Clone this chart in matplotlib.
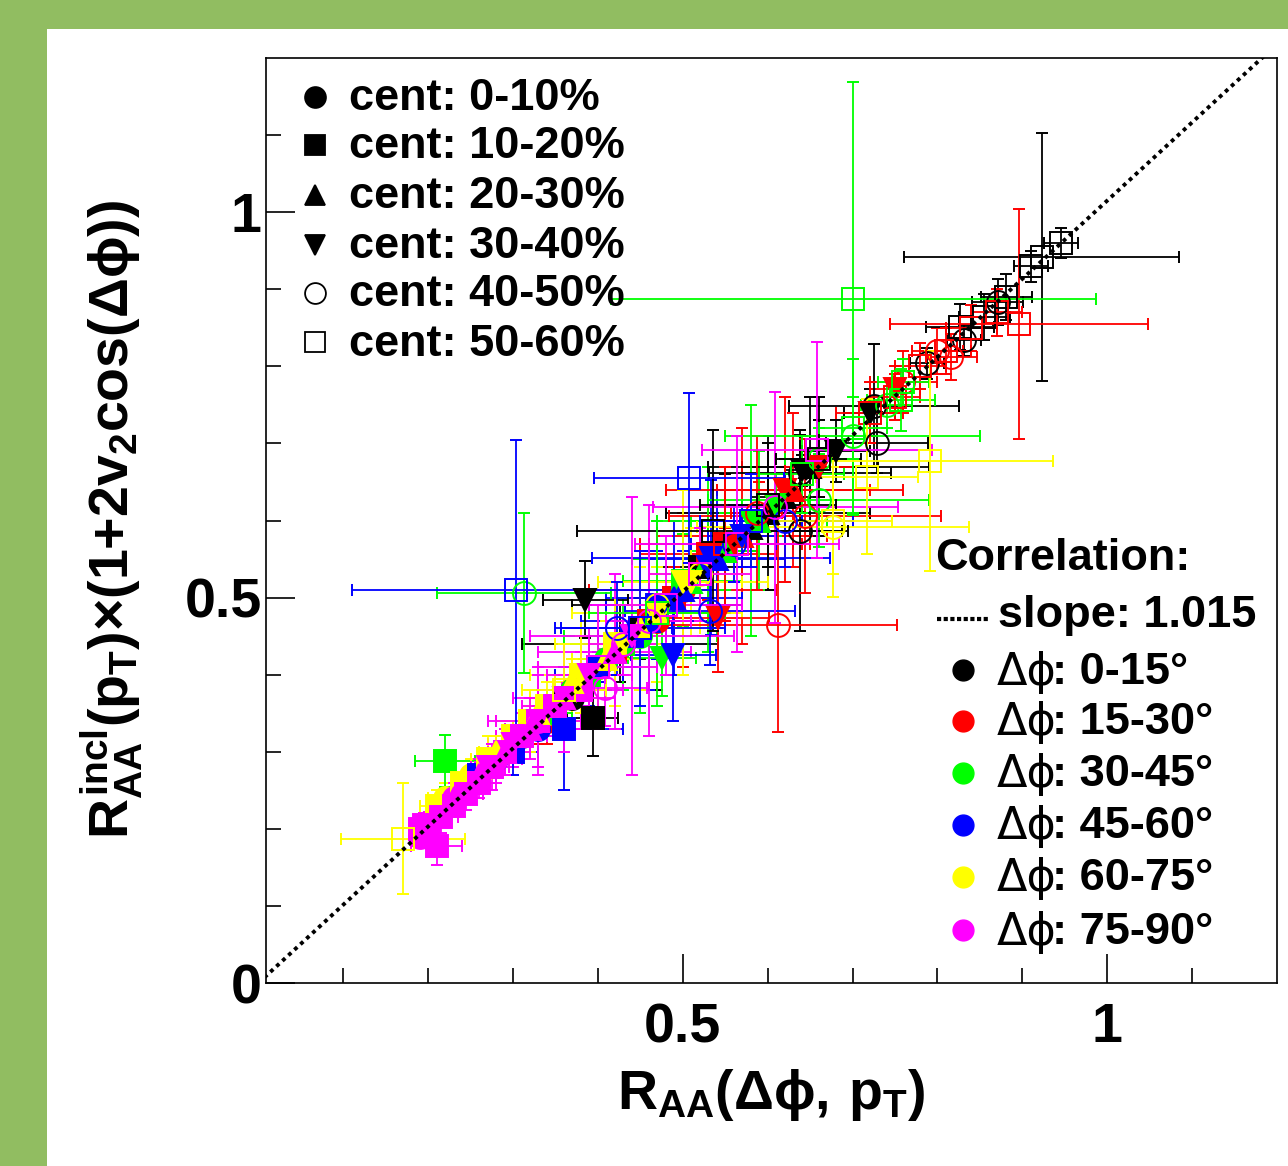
import numpy as np
import matplotlib
matplotlib.use("Agg")
import matplotlib.pyplot as plt
from matplotlib.lines import Line2D
from matplotlib.patches import Rectangle

plt.rcParams['font.family'] = ['Liberation Sans', 'DejaVu Sans']
plt.rcParams['font.weight'] = 'bold'
plt.rcParams['mathtext.fontset'] = 'custom'
plt.rcParams['mathtext.rm'] = 'Liberation Sans:bold'
plt.rcParams['mathtext.it'] = 'Liberation Sans:bold'
plt.rcParams['mathtext.bf'] = 'Liberation Sans:bold'
plt.rcParams['mathtext.sf'] = 'Liberation Sans:bold'
plt.rcParams['mathtext.fallback'] = 'stixsans'

W, H = 1288, 1166

PHI_COLORS = ["#000000", "#ff0000", "#00ff00", "#0000ff", "#ffff00", "#ff00ff"]
PHI_RANGES = ["0-15°", "15-30°", "30-45°", "45-60°", "60-75°", "75-90°"]
CENT_LABELS = ["cent: 0-10%", "cent: 10-20%", "cent: 20-30%",
               "cent: 30-40%", "cent: 40-50%", "cent: 50-60%"]
CENT_MARKERS = ["o", "s", "^", "v", "o", "s"]
CENT_FILLED = [True, True, True, True, False, False]
SLOPE = 1.015

# ---- data (x = RAA(dphi,pT), y = RAA_incl*(1+2v2cos)) ----
# cent 0-10%
c0_phi = [0, 0, 0, 0, 1, 1, 1, 1, 2, 2, 2, 2, 3, 3, 3, 3, 4, 4, 4, 4, 5, 5, 5, 5, 5,
          5, 5, 5, 4, 4, 4, 3, 3, 2, 2, 1, 1, 0, 0]
c0_x = [0.40, 0.43, 0.45, 0.47, 0.37, 0.40, 0.43, 0.50, 0.34, 0.37, 0.41, 0.45,
        0.31, 0.35, 0.39, 0.46, 0.27, 0.30, 0.34, 0.40, 0.20, 0.22, 0.25, 0.28, 0.33,
        0.19, 0.23, 0.30, 0.22, 0.25, 0.36, 0.28, 0.33, 0.30, 0.43, 0.34, 0.47, 0.37, 0.426]
c0_y = [0.41, 0.44, 0.46, 0.49, 0.38, 0.41, 0.44, 0.51, 0.35, 0.38, 0.42, 0.45,
        0.32, 0.36, 0.40, 0.47, 0.28, 0.31, 0.35, 0.41, 0.20, 0.23, 0.26, 0.29, 0.34,
        0.19, 0.24, 0.31, 0.24, 0.27, 0.37, 0.29, 0.33, 0.31, 0.44, 0.34, 0.47, 0.37, 0.44]
c0_ex = [0.01, 0.02, 0.04, 0.10, 0.01, 0.02, 0.04, 0.11, 0.01, 0.02, 0.04, 0.09,
         0.01, 0.02, 0.04, 0.08, 0.01, 0.02, 0.03, 0.07, 0.01, 0.01, 0.02, 0.03, 0.06,
         0.01, 0.02, 0.03, 0.02, 0.02, 0.04, 0.02, 0.03, 0.02, 0.07, 0.02, 0.06, 0.02, 0.115]
c0_ey = [0.01, 0.02, 0.04, 0.11, 0.01, 0.02, 0.04, 0.10, 0.01, 0.02, 0.04, 0.10,
         0.01, 0.02, 0.04, 0.09, 0.01, 0.02, 0.03, 0.08, 0.01, 0.01, 0.02, 0.03, 0.07,
         0.01, 0.02, 0.03, 0.02, 0.02, 0.04, 0.02, 0.05, 0.03, 0.06, 0.03, 0.08, 0.03, 0.05]

# cent 10-20%
c1_phi = [0, 0, 0, 0, 1, 1, 1, 1, 2, 2, 2, 2, 3, 3, 3, 3, 4, 4, 4, 4, 5, 5, 5, 5, 5, 5,
          5, 5, 5, 5, 5, 5, 5, 4, 4, 4, 4, 3, 3, 3, 2, 2, 2, 1, 1, 0, 0]
c1_x = [0.394, 0.45, 0.49, 0.52, 0.42, 0.46, 0.49, 0.55, 0.22, 0.39, 0.43, 0.47,
        0.35, 0.40, 0.44, 0.36, 0.24, 0.30, 0.34, 0.38, 0.19, 0.21, 0.23, 0.26, 0.29, 0.33,
        0.195, 0.215, 0.245, 0.275, 0.31, 0.35, 0.38, 0.21, 0.27, 0.32, 0.42,
        0.26, 0.30, 0.47, 0.27, 0.34, 0.50, 0.33, 0.53, 0.36, 0.55]
c1_y = [0.344, 0.46, 0.50, 0.54, 0.43, 0.47, 0.50, 0.57, 0.288, 0.40, 0.44, 0.48,
        0.36, 0.41, 0.45, 0.33, 0.26, 0.32, 0.36, 0.40, 0.20, 0.178, 0.23, 0.26, 0.30, 0.34,
        0.205, 0.215, 0.245, 0.28, 0.32, 0.36, 0.38, 0.23, 0.29, 0.34, 0.44,
        0.27, 0.30, 0.49, 0.28, 0.35, 0.522, 0.34, 0.557, 0.37, 0.57]
c1_ex = [0.03, 0.02, 0.03, 0.05, 0.01, 0.02, 0.04, 0.09, 0.035, 0.02, 0.03, 0.06,
         0.01, 0.02, 0.04, 0.07, 0.01, 0.02, 0.03, 0.06, 0.01, 0.03, 0.01, 0.02, 0.03, 0.05,
         0.015, 0.02, 0.02, 0.02, 0.03, 0.04, 0.05, 0.02, 0.02, 0.04, 0.07,
         0.02, 0.03, 0.06, 0.02, 0.03, 0.07, 0.02, 0.08, 0.02, 0.08]
c1_ey = [0.05, 0.02, 0.03, 0.05, 0.01, 0.02, 0.04, 0.10, 0.034, 0.02, 0.03, 0.06,
         0.01, 0.02, 0.04, 0.08, 0.01, 0.02, 0.03, 0.06, 0.01, 0.025, 0.01, 0.02, 0.03, 0.06,
         0.015, 0.02, 0.02, 0.03, 0.03, 0.04, 0.05, 0.02, 0.03, 0.04, 0.08,
         0.02, 0.03, 0.07, 0.02, 0.03, 0.06, 0.03, 0.06, 0.03, 0.09]

# cent 20-30%
c2_phi = [0, 0, 0, 1, 1, 1, 2, 2, 2, 3, 3, 3, 4, 4, 4, 4, 5, 5, 5, 5,
          0, 1, 2, 3, 4, 5, 5, 4]
c2_x = [0.58, 0.62, 0.65, 0.55, 0.59, 0.63, 0.51, 0.55, 0.59, 0.46, 0.50, 0.54,
        0.33, 0.37, 0.41, 0.45, 0.26, 0.29, 0.32, 0.36,
        0.60, 0.57, 0.53, 0.49, 0.47, 0.42, 0.23, 0.28]
c2_y = [0.59, 0.63, 0.67, 0.56, 0.60, 0.64, 0.52, 0.56, 0.60, 0.47, 0.51, 0.55,
        0.35, 0.39, 0.42, 0.46, 0.27, 0.30, 0.33, 0.37,
        0.61, 0.58, 0.55, 0.50, 0.48, 0.43, 0.24, 0.30]
c2_ex = [0.02, 0.04, 0.08, 0.02, 0.04, 0.09, 0.02, 0.04, 0.08, 0.02, 0.04, 0.08,
         0.01, 0.02, 0.04, 0.07, 0.01, 0.02, 0.03, 0.06,
         0.12, 0.10, 0.09, 0.08, 0.10, 0.09, 0.02, 0.02]
c2_ey = [0.03, 0.05, 0.09, 0.03, 0.05, 0.10, 0.03, 0.05, 0.09, 0.03, 0.05, 0.09,
         0.02, 0.03, 0.05, 0.08, 0.02, 0.03, 0.04, 0.07,
         0.10, 0.14, 0.12, 0.10, 0.09, 0.10, 0.02, 0.02]

# cent 30-40%
c3_phi = [0, 0, 0, 0, 1, 1, 1, 1, 2, 2, 2, 3, 3, 3, 4, 4, 4, 5, 5, 5, 5,
          0, 1, 2, 3, 4, 5, 5, 4]
c3_x = [0.385, 0.64, 0.68, 0.72, 0.541, 0.61, 0.66, 0.75, 0.475, 0.57, 0.61,
        0.489, 0.53, 0.57, 0.43, 0.47, 0.51, 0.30, 0.33, 0.36, 0.39,
        0.66, 0.62, 0.58, 0.533, 0.50, 0.44, 0.27, 0.38]
c3_y = [0.497, 0.665, 0.69, 0.74, 0.474, 0.62, 0.67, 0.77, 0.422, 0.58, 0.62,
        0.425, 0.54, 0.58, 0.44, 0.48, 0.52, 0.31, 0.34, 0.37, 0.40,
        0.67, 0.64, 0.60, 0.552, 0.52, 0.45, 0.28, 0.40]
c3_ex = [0.05, 0.02, 0.04, 0.03, 0.06, 0.02, 0.04, 0.03, 0.04, 0.02, 0.04,
         0.05, 0.02, 0.04, 0.02, 0.03, 0.06, 0.01, 0.02, 0.03, 0.05,
         0.13, 0.14, 0.11, 0.14, 0.10, 0.12, 0.02, 0.04]
c3_ey = [0.05, 0.02, 0.04, 0.03, 0.07, 0.02, 0.04, 0.03, 0.05, 0.02, 0.04,
         0.085, 0.02, 0.04, 0.02, 0.03, 0.07, 0.01, 0.02, 0.03, 0.06,
         0.09, 0.12, 0.15, 0.10, 0.12, 0.18, 0.02, 0.05]

# cent 40-50%
c4_phi = [0, 0, 0, 0, 0, 0, 1, 1, 1, 1, 2, 2, 2, 2, 3, 3, 3, 4, 4, 4, 5, 5, 5,
          5, 1, 2, 3, 1, 0]
c4_x = [0.638, 0.729, 0.725, 0.788, 0.831, 0.871, 0.612, 0.76, 0.80, 0.816,
        0.313, 0.66, 0.70, 0.74, 0.422, 0.532, 0.56, 0.47, 0.677, 0.52, 0.408, 0.43, 0.46,
        0.609, 0.644, 0.66, 0.62, 0.587, 0.638]
c4_y = [0.587, 0.701, 0.749, 0.804, 0.834, 0.883, 0.465, 0.78, 0.82, 0.812,
        0.506, 0.68, 0.71, 0.75, 0.46, 0.483, 0.57, 0.49, 0.591, 0.53, 0.383, 0.44, 0.47,
        0.617, 0.606, 0.626, 0.60, 0.61, 0.661]
c4_ex = [0.05, 0.06, 0.10, 0.02, 0.02, 0.03, 0.14, 0.04, 0.03, 0.03,
         0.103, 0.04, 0.15, 0.03, 0.065, 0.10, 0.05, 0.05, 0.16, 0.06, 0.05, 0.04, 0.05,
         0.144, 0.16, 0.13, 0.08, 0.03, 0.107]
c4_ey = [0.13, 0.04, 0.08, 0.02, 0.02, 0.03, 0.14, 0.04, 0.03, 0.03,
         0.104, 0.04, 0.10, 0.03, 0.06, 0.07, 0.05, 0.05, 0.09, 0.06, 0.05, 0.04, 0.15,
         0.15, 0.10, 0.06, 0.06, 0.10, 0.05]

# cent 50-60%
c5_phi = [0, 0, 0, 0, 0, 0, 0, 0, 1, 1, 1, 1, 1, 1, 2, 2, 2, 2, 3, 3, 3,
          4, 4, 4, 4, 5, 5, 5, 5,
          5, 4, 3, 2, 1, 0, 1, 2]
c5_x = [0.535, 0.60, 0.827, 0.855, 0.881, 0.91, 0.923, 0.945,
        0.75, 0.78, 0.81, 0.84, 0.87, 0.896, 0.701, 0.64, 0.70, 0.757,
        0.303, 0.507, 0.58, 0.17, 0.677, 0.717, 0.791, 0.48, 0.52, 0.564, 0.658,
        0.40, 0.36, 0.45, 0.47, 0.55, 0.66, 0.72, 0.76]
c5_y = [0.587, 0.62, 0.851, 0.864, 0.89, 0.93, 0.942, 0.96,
        0.76, 0.80, 0.82, 0.85, 0.87, 0.855, 0.888, 0.66, 0.72, 0.756,
        0.51, 0.655, 0.60, 0.187, 0.60, 0.657, 0.677, 0.49, 0.53, 0.57, 0.691,
        0.41, 0.38, 0.46, 0.48, 0.57, 0.68, 0.74, 0.78]
c5_ex = [0.16, 0.08, 0.04, 0.03, 0.03, 0.02, 0.162, 0.02,
         0.03, 0.03, 0.03, 0.03, 0.03, 0.152, 0.286, 0.05, 0.04, 0.04,
         0.193, 0.112, 0.06, 0.073, 0.07, 0.06, 0.145, 0.09, 0.06, 0.12, 0.135,
         0.07, 0.05, 0.10, 0.08, 0.10, 0.05, 0.04, 0.03]
c5_ey = [0.13, 0.08, 0.03, 0.03, 0.03, 0.02, 0.161, 0.02,
         0.03, 0.03, 0.03, 0.03, 0.03, 0.149, 0.281, 0.05, 0.04, 0.04,
         0.195, 0.11, 0.06, 0.072, 0.07, 0.10, 0.143, 0.09, 0.06, 0.14, 0.14,
         0.08, 0.06, 0.10, 0.12, 0.10, 0.05, 0.04, 0.03]

CENT_DATA = [(c0_phi, c0_x, c0_y, c0_ex, c0_ey),
             (c1_phi, c1_x, c1_y, c1_ex, c1_ey),
             (c2_phi, c2_x, c2_y, c2_ex, c2_ey),
             (c3_phi, c3_x, c3_y, c3_ex, c3_ey),
             (c4_phi, c4_x, c4_y, c4_ex, c4_ey),
             (c5_phi, c5_x, c5_y, c5_ex, c5_ey)]

fig = plt.figure(figsize=(W / 100, H / 100), dpi=100)
fig.patch.set_facecolor("#91bd61")
fig.add_artist(Rectangle((47 / W, 0), 1 - 47 / W, 1 - 29 / H,
                         transform=fig.transFigure, fc="white", ec="none", zorder=-10))


def fp(px, py):
    return px / W, 1 - py / H


ax = fig.add_axes([266 / W, 1 - 983 / H, (1277 - 266) / W, (983 - 58) / H])
ax.set_xlim(0.009, 1.2)
ax.set_ylim(0, 1.2)

for ci, (phi, xs, ys, exs, eys) in enumerate(CENT_DATA):
    phi = np.array(phi)
    xs, ys, exs, eys = map(np.array, (xs, ys, exs, eys))
    for p in range(6):
        m = phi == p
        if not m.any():
            continue
        c = PHI_COLORS[p]
        ax.errorbar(xs[m], ys[m], xerr=exs[m], yerr=eys[m], fmt=CENT_MARKERS[ci],
                    ms=16.5, mfc=c if CENT_FILLED[ci] else "none", mec=c, mew=1.4,
                    ecolor=c, elinewidth=1.3, capsize=4.5, capthick=1.3, ls="none")

xl = np.array([0, 1.2])
ax.plot(xl, SLOPE * xl, color="black", lw=2.8, ls=(0, (1, 1.1)), zorder=10)

for s in ax.spines.values():
    s.set_linewidth(1.2)
ax.set_xticks([0.5, 1.0])
ax.set_xticklabels(["0.5", "1"])
ax.set_yticks([0, 0.5, 1.0])
ax.set_yticklabels(["0", "0.5", "1"])
ax.set_xticks(np.arange(0.1, 1.2, 0.1), minor=True)
ax.set_yticks(np.arange(0.1, 1.2, 0.1), minor=True)
ax.tick_params(which="both", direction="in", top=False, right=False, width=1.2)
ax.tick_params(which="major", length=21, labelsize=40)
ax.tick_params(axis="x", which="major", pad=14)
ax.tick_params(axis="y", which="major", pad=3)
ax.tick_params(which="minor", length=11)

fig.text(*fp(771, 1095), r"$R_{AA}(\Delta\phi,\, p_{T})$", fontsize=40,
         ha="center", va="center")
fig.text(*fp(112, 520), r"$R^{incl}_{AA}(p_{T}){\times}(1{+}2v_{2}\cos(\Delta\phi))$",
         fontsize=40, ha="center", va="center", rotation=90)

# centrality legend (top left)
cent_rows = [97, 145, 195, 245, 293, 342]
for i, yy in enumerate(cent_rows):
    fig.add_artist(Line2D([315 / W], [1 - yy / H], transform=fig.transFigure,
                          marker=CENT_MARKERS[i], ms=15 if i != 1 else 14,
                          mfc="black" if CENT_FILLED[i] else "none", mec="black", mew=1.3))
    fig.text(*fp(349, yy + 2), CENT_LABELS[i], fontsize=32.5, ha="left", va="center")

# correlation legend (right)
fig.text(*fp(935, 558), "Correlation:", fontsize=32.5, ha="left", va="center")
fig.add_artist(Line2D([937 / W, 990 / W], [1 - 619 / H, 1 - 619 / H],
                      transform=fig.transFigure, color="black", lw=3, ls=(0, (1, 0.6))))
fig.text(*fp(998, 616), "slope: 1.015", fontsize=32.5, ha="left", va="center")
phi_rows = [670, 721, 773, 825, 877, 930]
for i, yy in enumerate(phi_rows):
    fig.add_artist(Line2D([963 / W], [1 - yy / H], transform=fig.transFigure,
                          marker="o", ms=15, mfc=PHI_COLORS[i], mec=PHI_COLORS[i]))
    fig.text(*fp(997, yy + 2), "Δϕ", fontsize=32, fontweight="normal",
             family="DejaVu Sans", ha="left", va="center")
    fig.text(*fp(1052, yy + 2), ": " + PHI_RANGES[i], fontsize=32.5, ha="left", va="center")

fig.savefig("out.png", dpi=100, facecolor=fig.get_facecolor())
